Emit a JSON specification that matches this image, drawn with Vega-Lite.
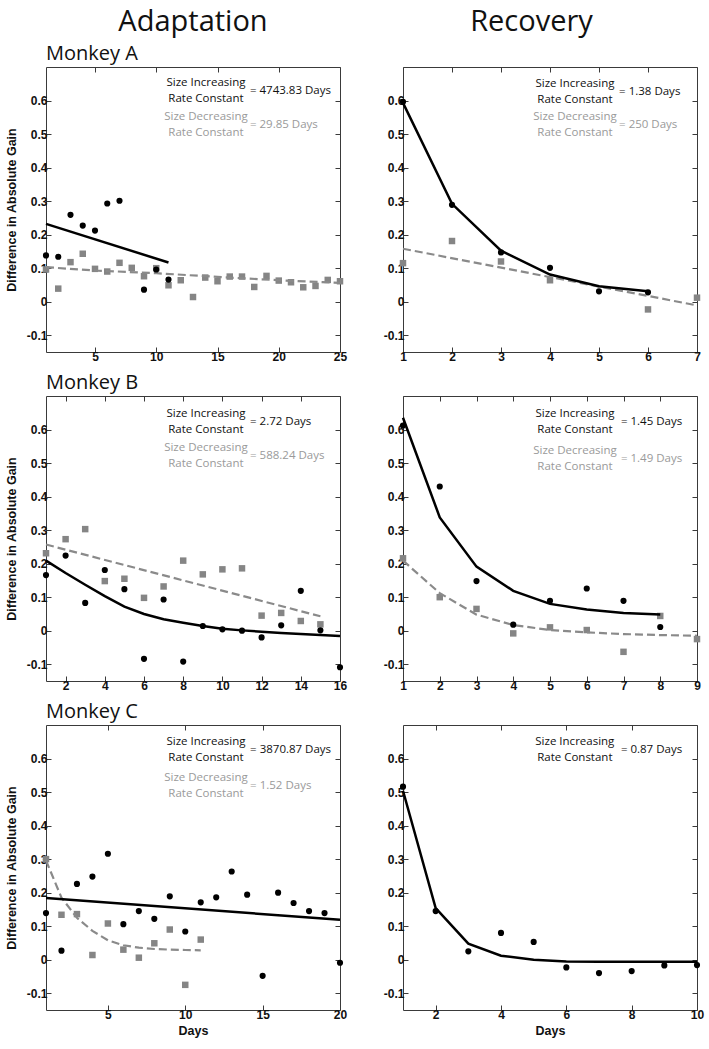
{
"$schema": "https://vega.github.io/schema/vega-lite/v6.json",
"padding": {"left": 4, "top": 8, "right": 4, "bottom": 4},
"config": {
 "font": "Open Sans",
 "view": {"stroke": "#3a3a3a", "strokeWidth": 1},
 "axis": {"domain": false, "grid": false, "tickSize": -5, "tickColor": "#3a3a3a", "tickWidth": 1, "labelFont": "Liberation Sans", "labelFontWeight": "bold", "labelFontSize": 12, "labelColor": "#111", "labelPadding": 4, "labelFlush": false, "labelOverlap": false, "titleFont": "Liberation Sans", "titleFontWeight": "bold", "titleFontSize": 12.5, "titleColor": "#111", "titlePadding": 8},
 "title": {"font": "Open Sans", "fontWeight": "normal", "color": "#111", "fontSize": 20, "anchor": "start", "frame": "group", "offset": 3},
 "text": {"font": "Open Sans", "fontSize": 11.5, "lineBreak": "\n", "lineHeight": 16, "baseline": "middle"}
},
"datasets": {
 "points": [
  {"p":"AL","s":"inc","day":1,"gain":0.138},{"p":"AL","s":"inc","day":2,"gain":0.134},{"p":"AL","s":"inc","day":3,"gain":0.259},{"p":"AL","s":"inc","day":4,"gain":0.227},{"p":"AL","s":"inc","day":5,"gain":0.212},{"p":"AL","s":"inc","day":6,"gain":0.293},{"p":"AL","s":"inc","day":7,"gain":0.301},{"p":"AL","s":"inc","day":9,"gain":0.036},{"p":"AL","s":"inc","day":10,"gain":0.096},{"p":"AL","s":"inc","day":11,"gain":0.066},
  {"p":"AL","s":"dec","day":1,"gain":0.096},{"p":"AL","s":"dec","day":2,"gain":0.039},{"p":"AL","s":"dec","day":3,"gain":0.118},{"p":"AL","s":"dec","day":4,"gain":0.143},{"p":"AL","s":"dec","day":5,"gain":0.098},{"p":"AL","s":"dec","day":6,"gain":0.09},{"p":"AL","s":"dec","day":7,"gain":0.116},{"p":"AL","s":"dec","day":8,"gain":0.101},{"p":"AL","s":"dec","day":9,"gain":0.076},{"p":"AL","s":"dec","day":10,"gain":0.1},{"p":"AL","s":"dec","day":11,"gain":0.049},{"p":"AL","s":"dec","day":12,"gain":0.064},{"p":"AL","s":"dec","day":13,"gain":0.014},{"p":"AL","s":"dec","day":14,"gain":0.072},{"p":"AL","s":"dec","day":15,"gain":0.061},{"p":"AL","s":"dec","day":16,"gain":0.075},{"p":"AL","s":"dec","day":17,"gain":0.075},{"p":"AL","s":"dec","day":18,"gain":0.044},{"p":"AL","s":"dec","day":19,"gain":0.077},{"p":"AL","s":"dec","day":20,"gain":0.063},{"p":"AL","s":"dec","day":21,"gain":0.058},{"p":"AL","s":"dec","day":22,"gain":0.043},{"p":"AL","s":"dec","day":23,"gain":0.047},{"p":"AL","s":"dec","day":24,"gain":0.065},{"p":"AL","s":"dec","day":25,"gain":0.061},
  {"p":"AR","s":"inc","day":1,"gain":0.596},{"p":"AR","s":"inc","day":2,"gain":0.289},{"p":"AR","s":"inc","day":3,"gain":0.147},{"p":"AR","s":"inc","day":4,"gain":0.101},{"p":"AR","s":"inc","day":5,"gain":0.031},{"p":"AR","s":"inc","day":6,"gain":0.028},
  {"p":"AR","s":"dec","day":1,"gain":0.115},{"p":"AR","s":"dec","day":2,"gain":0.181},{"p":"AR","s":"dec","day":3,"gain":0.12},{"p":"AR","s":"dec","day":4,"gain":0.064},{"p":"AR","s":"dec","day":6,"gain":-0.023},{"p":"AR","s":"dec","day":7,"gain":0.012},
  {"p":"BL","s":"inc","day":1,"gain":0.166},{"p":"BL","s":"inc","day":2,"gain":0.224},{"p":"BL","s":"inc","day":3,"gain":0.083},{"p":"BL","s":"inc","day":4,"gain":0.181},{"p":"BL","s":"inc","day":5,"gain":0.124},{"p":"BL","s":"inc","day":6,"gain":-0.084},{"p":"BL","s":"inc","day":7,"gain":0.093},{"p":"BL","s":"inc","day":8,"gain":-0.092},{"p":"BL","s":"inc","day":9,"gain":0.014},{"p":"BL","s":"inc","day":10,"gain":0.004},{"p":"BL","s":"inc","day":11,"gain":0.0},{"p":"BL","s":"inc","day":12,"gain":-0.02},{"p":"BL","s":"inc","day":13,"gain":0.016},{"p":"BL","s":"inc","day":14,"gain":0.119},{"p":"BL","s":"inc","day":15,"gain":0.001},{"p":"BL","s":"inc","day":16,"gain":-0.109},
  {"p":"BL","s":"dec","day":1,"gain":0.231},{"p":"BL","s":"dec","day":2,"gain":0.273},{"p":"BL","s":"dec","day":3,"gain":0.303},{"p":"BL","s":"dec","day":4,"gain":0.148},{"p":"BL","s":"dec","day":5,"gain":0.155},{"p":"BL","s":"dec","day":6,"gain":0.098},{"p":"BL","s":"dec","day":7,"gain":0.132},{"p":"BL","s":"dec","day":8,"gain":0.209},{"p":"BL","s":"dec","day":9,"gain":0.168},{"p":"BL","s":"dec","day":10,"gain":0.183},{"p":"BL","s":"dec","day":11,"gain":0.186},{"p":"BL","s":"dec","day":12,"gain":0.045},{"p":"BL","s":"dec","day":13,"gain":0.053},{"p":"BL","s":"dec","day":14,"gain":0.029},{"p":"BL","s":"dec","day":15,"gain":0.019},
  {"p":"BR","s":"inc","day":1,"gain":0.612},{"p":"BR","s":"inc","day":2,"gain":0.43},{"p":"BR","s":"inc","day":3,"gain":0.148},{"p":"BR","s":"inc","day":4,"gain":0.018},{"p":"BR","s":"inc","day":5,"gain":0.089},{"p":"BR","s":"inc","day":6,"gain":0.126},{"p":"BR","s":"inc","day":7,"gain":0.089},{"p":"BR","s":"inc","day":8,"gain":0.011},
  {"p":"BR","s":"dec","day":1,"gain":0.216},{"p":"BR","s":"dec","day":2,"gain":0.1},{"p":"BR","s":"dec","day":3,"gain":0.065},{"p":"BR","s":"dec","day":4,"gain":-0.008},{"p":"BR","s":"dec","day":5,"gain":0.01},{"p":"BR","s":"dec","day":6,"gain":0.002},{"p":"BR","s":"dec","day":7,"gain":-0.063},{"p":"BR","s":"dec","day":8,"gain":0.044},{"p":"BR","s":"dec","day":9,"gain":-0.025},
  {"p":"CL","s":"inc","day":1,"gain":0.139},{"p":"CL","s":"inc","day":2,"gain":0.027},{"p":"CL","s":"inc","day":3,"gain":0.226},{"p":"CL","s":"inc","day":4,"gain":0.248},{"p":"CL","s":"inc","day":5,"gain":0.316},{"p":"CL","s":"inc","day":6,"gain":0.106},{"p":"CL","s":"inc","day":7,"gain":0.145},{"p":"CL","s":"inc","day":8,"gain":0.122},{"p":"CL","s":"inc","day":9,"gain":0.189},{"p":"CL","s":"inc","day":10,"gain":0.084},{"p":"CL","s":"inc","day":11,"gain":0.171},{"p":"CL","s":"inc","day":12,"gain":0.186},{"p":"CL","s":"inc","day":13,"gain":0.263},{"p":"CL","s":"inc","day":14,"gain":0.194},{"p":"CL","s":"inc","day":15,"gain":-0.048},{"p":"CL","s":"inc","day":16,"gain":0.2},{"p":"CL","s":"inc","day":17,"gain":0.169},{"p":"CL","s":"inc","day":18,"gain":0.145},{"p":"CL","s":"inc","day":19,"gain":0.139},{"p":"CL","s":"inc","day":20,"gain":-0.009},
  {"p":"CL","s":"dec","day":1,"gain":0.3},{"p":"CL","s":"dec","day":2,"gain":0.134},{"p":"CL","s":"dec","day":3,"gain":0.136},{"p":"CL","s":"dec","day":4,"gain":0.014},{"p":"CL","s":"dec","day":5,"gain":0.108},{"p":"CL","s":"dec","day":6,"gain":0.03},{"p":"CL","s":"dec","day":7,"gain":0.006},{"p":"CL","s":"dec","day":8,"gain":0.049},{"p":"CL","s":"dec","day":9,"gain":0.09},{"p":"CL","s":"dec","day":10,"gain":-0.075},{"p":"CL","s":"dec","day":11,"gain":0.06},
  {"p":"CR","s":"inc","day":1,"gain":0.516},{"p":"CR","s":"inc","day":2,"gain":0.145},{"p":"CR","s":"inc","day":3,"gain":0.025},{"p":"CR","s":"inc","day":4,"gain":0.08},{"p":"CR","s":"inc","day":5,"gain":0.053},{"p":"CR","s":"inc","day":6,"gain":-0.023},{"p":"CR","s":"inc","day":7,"gain":-0.04},{"p":"CR","s":"inc","day":8,"gain":-0.034},{"p":"CR","s":"inc","day":9,"gain":-0.017},{"p":"CR","s":"inc","day":10,"gain":-0.016}
 ],
 "fits": [
  {"p":"AL","s":"inc","day":1,"gain":0.232},{"p":"AL","s":"inc","day":11,"gain":0.117},
  {"p":"AL","s":"dec","day":1,"gain":0.103},{"p":"AL","s":"dec","day":5,"gain":0.093},{"p":"AL","s":"dec","day":10,"gain":0.085},{"p":"AL","s":"dec","day":15,"gain":0.074},{"p":"AL","s":"dec","day":20,"gain":0.064},{"p":"AL","s":"dec","day":25,"gain":0.056},
  {"p":"AR","s":"inc","day":1,"gain":0.593},{"p":"AR","s":"inc","day":2,"gain":0.292},{"p":"AR","s":"inc","day":3,"gain":0.152},{"p":"AR","s":"inc","day":4,"gain":0.081},{"p":"AR","s":"inc","day":5,"gain":0.046},{"p":"AR","s":"inc","day":6,"gain":0.031},
  {"p":"AR","s":"dec","day":1,"gain":0.158},{"p":"AR","s":"dec","day":7,"gain":-0.011},
  {"p":"BL","s":"inc","day":1,"gain":0.209},{"p":"BL","s":"inc","day":2,"gain":0.172},{"p":"BL","s":"inc","day":3,"gain":0.137},{"p":"BL","s":"inc","day":4,"gain":0.103},{"p":"BL","s":"inc","day":5,"gain":0.072},{"p":"BL","s":"inc","day":6,"gain":0.05},{"p":"BL","s":"inc","day":7,"gain":0.034},{"p":"BL","s":"inc","day":8,"gain":0.024},{"p":"BL","s":"inc","day":9,"gain":0.014},{"p":"BL","s":"inc","day":10,"gain":0.006},{"p":"BL","s":"inc","day":11,"gain":0.001},{"p":"BL","s":"inc","day":12,"gain":-0.003},{"p":"BL","s":"inc","day":13,"gain":-0.007},{"p":"BL","s":"inc","day":14,"gain":-0.01},{"p":"BL","s":"inc","day":15,"gain":-0.013},{"p":"BL","s":"inc","day":16,"gain":-0.016},
  {"p":"BL","s":"dec","day":1,"gain":0.257},{"p":"BL","s":"dec","day":15,"gain":0.043},
  {"p":"BR","s":"inc","day":1,"gain":0.635},{"p":"BR","s":"inc","day":2,"gain":0.338},{"p":"BR","s":"inc","day":3,"gain":0.191},{"p":"BR","s":"inc","day":4,"gain":0.119},{"p":"BR","s":"inc","day":5,"gain":0.08},{"p":"BR","s":"inc","day":6,"gain":0.063},{"p":"BR","s":"inc","day":7,"gain":0.053},{"p":"BR","s":"inc","day":8,"gain":0.048},
  {"p":"BR","s":"dec","day":1,"gain":0.209},{"p":"BR","s":"dec","day":2,"gain":0.112},{"p":"BR","s":"dec","day":3,"gain":0.048},{"p":"BR","s":"dec","day":4,"gain":0.017},{"p":"BR","s":"dec","day":5,"gain":0.002},{"p":"BR","s":"dec","day":6,"gain":-0.005},{"p":"BR","s":"dec","day":7,"gain":-0.01},{"p":"BR","s":"dec","day":8,"gain":-0.013},{"p":"BR","s":"dec","day":9,"gain":-0.015},
  {"p":"CL","s":"inc","day":1,"gain":0.184},{"p":"CL","s":"inc","day":20,"gain":0.119},
  {"p":"CL","s":"dec","day":1,"gain":0.296},{"p":"CL","s":"dec","day":2,"gain":0.185},{"p":"CL","s":"dec","day":3,"gain":0.125},{"p":"CL","s":"dec","day":4,"gain":0.086},{"p":"CL","s":"dec","day":5,"gain":0.058},{"p":"CL","s":"dec","day":6,"gain":0.043},{"p":"CL","s":"dec","day":7,"gain":0.036},{"p":"CL","s":"dec","day":8,"gain":0.032},{"p":"CL","s":"dec","day":9,"gain":0.03},{"p":"CL","s":"dec","day":10,"gain":0.029},{"p":"CL","s":"dec","day":11,"gain":0.028},
  {"p":"CR","s":"inc","day":1,"gain":0.504},{"p":"CR","s":"inc","day":2,"gain":0.154},{"p":"CR","s":"inc","day":3,"gain":0.048},{"p":"CR","s":"inc","day":4,"gain":0.012},{"p":"CR","s":"inc","day":5,"gain":0.0},{"p":"CR","s":"inc","day":6,"gain":-0.005},{"p":"CR","s":"inc","day":7,"gain":-0.006},{"p":"CR","s":"inc","day":8,"gain":-0.006},{"p":"CR","s":"inc","day":9,"gain":-0.006},{"p":"CR","s":"inc","day":10,"gain":-0.006}
 ],
 "notes": [
  {"p":"AL","s":"inc","k":"label","day":14.06,"gain":0.627,"t":"Size Increasing\nRate Constant"},{"p":"AL","s":"inc","k":"value","day":17.65,"gain":0.627,"t":"= 4743.83 Days"},
  {"p":"AL","s":"dec","k":"label","day":14.06,"gain":0.528,"t":"Size Decreasing\nRate Constant"},{"p":"AL","s":"dec","k":"value","day":17.65,"gain":0.528,"t":"= 29.85 Days"},
  {"p":"AR","s":"inc","k":"label","day":4.51,"gain":0.625,"t":"Size Increasing\nRate Constant"},{"p":"AR","s":"inc","k":"value","day":5.41,"gain":0.625,"t":"= 1.38 Days"},
  {"p":"AR","s":"dec","k":"label","day":4.51,"gain":0.527,"t":"Size Decreasing\nRate Constant"},{"p":"AR","s":"dec","k":"value","day":5.41,"gain":0.527,"t":"= 250 Days"},
  {"p":"BL","s":"inc","k":"label","day":9.16,"gain":0.623,"t":"Size Increasing\nRate Constant"},{"p":"BL","s":"inc","k":"value","day":11.41,"gain":0.623,"t":"= 2.72 Days"},
  {"p":"BL","s":"dec","k":"label","day":9.16,"gain":0.522,"t":"Size Decreasing\nRate Constant"},{"p":"BL","s":"dec","k":"value","day":11.41,"gain":0.522,"t":"= 588.24 Days"},
  {"p":"BR","s":"inc","k":"label","day":5.68,"gain":0.623,"t":"Size Increasing\nRate Constant"},{"p":"BR","s":"inc","k":"value","day":6.93,"gain":0.623,"t":"= 1.45 Days"},
  {"p":"BR","s":"dec","k":"label","day":5.68,"gain":0.513,"t":"Size Decreasing\nRate Constant"},{"p":"BR","s":"dec","k":"value","day":6.93,"gain":0.513,"t":"= 1.49 Days"},
  {"p":"CL","s":"inc","k":"label","day":11.34,"gain":0.626,"t":"Size Increasing\nRate Constant"},{"p":"CL","s":"inc","k":"value","day":14.19,"gain":0.626,"t":"= 3870.87 Days"},
  {"p":"CL","s":"dec","k":"label","day":11.34,"gain":0.519,"t":"Size Decreasing\nRate Constant"},{"p":"CL","s":"dec","k":"value","day":14.19,"gain":0.519,"t":"= 1.52 Days"},
  {"p":"CR","s":"inc","k":"label","day":6.26,"gain":0.626,"t":"Size Increasing\nRate Constant"},{"p":"CR","s":"inc","k":"value","day":7.67,"gain":0.626,"t":"= 0.87 Days"}
 ]
},
"align": "none",
"spacing": 34,
"hconcat": [
 {"title": {"text": "Adaptation", "fontSize": 29, "anchor": "middle", "frame": "bounds", "offset": 6, "dx": 17},
  "spacing": 9,
  "vconcat": [
   {"title": {"text": "Monkey A"}, "width": 294, "height": 285,
    "encoding": {"x": {"field": "day", "type": "quantitative", "scale": {"domain": [1, 25], "nice": false, "zero": false}, "axis": null},
                 "y": {"field": "gain", "type": "quantitative", "scale": {"domain": [-0.15, 0.7], "nice": false, "zero": false}, "axis": null}},
    "layer": [
     {"data": {"name": "points"}, "transform": [{"filter": "datum.p == 'AL' && datum.s == 'dec'"}], "mark": {"type": "square", "filled": true, "color": "#858585", "size": 42, "opacity": 1}},
     {"data": {"name": "fits"}, "transform": [{"filter": "datum.p == 'AL' && datum.s == 'dec'"}], "mark": {"type": "line", "color": "#8a8a8a", "strokeWidth": 2.2, "strokeDash": [8, 4]}},
     {"data": {"name": "points"}, "transform": [{"filter": "datum.p == 'AL' && datum.s == 'inc'"}], "mark": {"type": "circle", "color": "#000", "size": 38, "opacity": 1},
      "encoding": {"x": {"field": "day", "type": "quantitative", "scale": {"domain": [1, 25], "nice": false, "zero": false}, "axis": {"orient": "bottom", "values": [5, 10, 15, 20, 25], "title": null}},
                   "y": {"field": "gain", "type": "quantitative", "scale": {"domain": [-0.15, 0.7], "nice": false, "zero": false}, "axis": {"orient": "left", "values": [-0.1, 0, 0.1, 0.2, 0.3, 0.4, 0.5, 0.6], "title": "Difference in Absolute Gain", "labelExpr": "datum.value == 0 ? '0' : (datum.value < 0 ? '-' : '') + format(abs(datum.value), '.1f')"}}}},
     {"data": {"name": "fits"}, "transform": [{"filter": "datum.p == 'AL' && datum.s == 'inc'"}], "mark": {"type": "line", "color": "#000", "strokeWidth": 2.5},
      "encoding": {"x": {"field": "day", "type": "quantitative", "scale": {"domain": [1, 25], "nice": false, "zero": false}, "axis": {"orient": "top", "values": [5, 10, 15, 20, 25], "labels": false, "title": null}},
                   "y": {"field": "gain", "type": "quantitative", "scale": {"domain": [-0.15, 0.7], "nice": false, "zero": false}, "axis": {"orient": "right", "values": [-0.1, 0, 0.1, 0.2, 0.3, 0.4, 0.5, 0.6], "labels": false, "title": null}}}},
     {"data": {"name": "notes"}, "transform": [{"filter": "datum.p == 'AL' && datum.k == 'label'"}], "mark": {"type": "text", "align": "center", "dy": -8},
      "encoding": {"text": {"field": "t"}, "color": {"condition": {"test": "datum.s == 'dec'", "value": "#9a9a9a"}, "value": "#111"}}},
     {"data": {"name": "notes"}, "transform": [{"filter": "datum.p == 'AL' && datum.k == 'value'"}], "mark": {"type": "text", "align": "left"},
      "encoding": {"text": {"field": "t"}, "color": {"condition": {"test": "datum.s == 'dec'", "value": "#9a9a9a"}, "value": "#111"}}}
    ]},
   {"title": {"text": "Monkey B"}, "width": 294, "height": 285,
    "encoding": {"x": {"field": "day", "type": "quantitative", "scale": {"domain": [1, 16], "nice": false, "zero": false}, "axis": null},
                 "y": {"field": "gain", "type": "quantitative", "scale": {"domain": [-0.15, 0.7], "nice": false, "zero": false}, "axis": null}},
    "layer": [
     {"data": {"name": "points"}, "transform": [{"filter": "datum.p == 'BL' && datum.s == 'dec'"}], "mark": {"type": "square", "filled": true, "color": "#858585", "size": 42, "opacity": 1}},
     {"data": {"name": "fits"}, "transform": [{"filter": "datum.p == 'BL' && datum.s == 'dec'"}], "mark": {"type": "line", "color": "#8a8a8a", "strokeWidth": 2.2, "strokeDash": [8, 4]}},
     {"data": {"name": "points"}, "transform": [{"filter": "datum.p == 'BL' && datum.s == 'inc'"}], "mark": {"type": "circle", "color": "#000", "size": 38, "opacity": 1},
      "encoding": {"x": {"field": "day", "type": "quantitative", "scale": {"domain": [1, 16], "nice": false, "zero": false}, "axis": {"orient": "bottom", "values": [2, 4, 6, 8, 10, 12, 14, 16], "title": null}},
                   "y": {"field": "gain", "type": "quantitative", "scale": {"domain": [-0.15, 0.7], "nice": false, "zero": false}, "axis": {"orient": "left", "values": [-0.1, 0, 0.1, 0.2, 0.3, 0.4, 0.5, 0.6], "title": "Difference in Absolute Gain", "labelExpr": "datum.value == 0 ? '0' : (datum.value < 0 ? '-' : '') + format(abs(datum.value), '.1f')"}}}},
     {"data": {"name": "fits"}, "transform": [{"filter": "datum.p == 'BL' && datum.s == 'inc'"}], "mark": {"type": "line", "color": "#000", "strokeWidth": 2.5},
      "encoding": {"x": {"field": "day", "type": "quantitative", "scale": {"domain": [1, 16], "nice": false, "zero": false}, "axis": {"orient": "top", "values": [2, 4, 6, 8, 10, 12, 14, 16], "labels": false, "title": null}},
                   "y": {"field": "gain", "type": "quantitative", "scale": {"domain": [-0.15, 0.7], "nice": false, "zero": false}, "axis": {"orient": "right", "values": [-0.1, 0, 0.1, 0.2, 0.3, 0.4, 0.5, 0.6], "labels": false, "title": null}}}},
     {"data": {"name": "notes"}, "transform": [{"filter": "datum.p == 'BL' && datum.k == 'label'"}], "mark": {"type": "text", "align": "center", "dy": -8},
      "encoding": {"text": {"field": "t"}, "color": {"condition": {"test": "datum.s == 'dec'", "value": "#9a9a9a"}, "value": "#111"}}},
     {"data": {"name": "notes"}, "transform": [{"filter": "datum.p == 'BL' && datum.k == 'value'"}], "mark": {"type": "text", "align": "left"},
      "encoding": {"text": {"field": "t"}, "color": {"condition": {"test": "datum.s == 'dec'", "value": "#9a9a9a"}, "value": "#111"}}}
    ]},
   {"title": {"text": "Monkey C"}, "width": 294, "height": 285,
    "encoding": {"x": {"field": "day", "type": "quantitative", "scale": {"domain": [1, 20], "nice": false, "zero": false}, "axis": null},
                 "y": {"field": "gain", "type": "quantitative", "scale": {"domain": [-0.15, 0.7], "nice": false, "zero": false}, "axis": null}},
    "layer": [
     {"data": {"name": "points"}, "transform": [{"filter": "datum.p == 'CL' && datum.s == 'dec'"}], "mark": {"type": "square", "filled": true, "color": "#858585", "size": 42, "opacity": 1}},
     {"data": {"name": "fits"}, "transform": [{"filter": "datum.p == 'CL' && datum.s == 'dec'"}], "mark": {"type": "line", "color": "#8a8a8a", "strokeWidth": 2.2, "strokeDash": [8, 4]}},
     {"data": {"name": "points"}, "transform": [{"filter": "datum.p == 'CL' && datum.s == 'inc'"}], "mark": {"type": "circle", "color": "#000", "size": 38, "opacity": 1},
      "encoding": {"x": {"field": "day", "type": "quantitative", "scale": {"domain": [1, 20], "nice": false, "zero": false}, "axis": {"orient": "bottom", "values": [5, 10, 15, 20], "title": "Days", "titlePadding": 4}},
                   "y": {"field": "gain", "type": "quantitative", "scale": {"domain": [-0.15, 0.7], "nice": false, "zero": false}, "axis": {"orient": "left", "values": [-0.1, 0, 0.1, 0.2, 0.3, 0.4, 0.5, 0.6], "title": "Difference in Absolute Gain", "labelExpr": "datum.value == 0 ? '0' : (datum.value < 0 ? '-' : '') + format(abs(datum.value), '.1f')"}}}},
     {"data": {"name": "fits"}, "transform": [{"filter": "datum.p == 'CL' && datum.s == 'inc'"}], "mark": {"type": "line", "color": "#000", "strokeWidth": 2.5},
      "encoding": {"x": {"field": "day", "type": "quantitative", "scale": {"domain": [1, 20], "nice": false, "zero": false}, "axis": {"orient": "top", "values": [5, 10, 15, 20], "labels": false, "title": null}},
                   "y": {"field": "gain", "type": "quantitative", "scale": {"domain": [-0.15, 0.7], "nice": false, "zero": false}, "axis": {"orient": "right", "values": [-0.1, 0, 0.1, 0.2, 0.3, 0.4, 0.5, 0.6], "labels": false, "title": null}}}},
     {"data": {"name": "notes"}, "transform": [{"filter": "datum.p == 'CL' && datum.k == 'label'"}], "mark": {"type": "text", "align": "center", "dy": -8},
      "encoding": {"text": {"field": "t"}, "color": {"condition": {"test": "datum.s == 'dec'", "value": "#9a9a9a"}, "value": "#111"}}},
     {"data": {"name": "notes"}, "transform": [{"filter": "datum.p == 'CL' && datum.k == 'value'"}], "mark": {"type": "text", "align": "left"},
      "encoding": {"text": {"field": "t"}, "color": {"condition": {"test": "datum.s == 'dec'", "value": "#9a9a9a"}, "value": "#111"}}}
    ]}
  ]},
 {"title": {"text": "Recovery", "fontSize": 29, "anchor": "middle", "frame": "bounds", "offset": 6, "dx": -12},
  "spacing": 9,
  "vconcat": [
   {"title": {"text": " "}, "width": 294, "height": 285,
    "encoding": {"x": {"field": "day", "type": "quantitative", "scale": {"domain": [1, 7], "nice": false, "zero": false}, "axis": null},
                 "y": {"field": "gain", "type": "quantitative", "scale": {"domain": [-0.15, 0.7], "nice": false, "zero": false}, "axis": null}},
    "layer": [
     {"data": {"name": "points"}, "transform": [{"filter": "datum.p == 'AR' && datum.s == 'dec'"}], "mark": {"type": "square", "filled": true, "color": "#858585", "size": 42, "opacity": 1}},
     {"data": {"name": "fits"}, "transform": [{"filter": "datum.p == 'AR' && datum.s == 'dec'"}], "mark": {"type": "line", "color": "#8a8a8a", "strokeWidth": 2.2, "strokeDash": [8, 4]}},
     {"data": {"name": "points"}, "transform": [{"filter": "datum.p == 'AR' && datum.s == 'inc'"}], "mark": {"type": "circle", "color": "#000", "size": 38, "opacity": 1},
      "encoding": {"x": {"field": "day", "type": "quantitative", "scale": {"domain": [1, 7], "nice": false, "zero": false}, "axis": {"orient": "bottom", "values": [1, 2, 3, 4, 5, 6, 7], "title": null}},
                   "y": {"field": "gain", "type": "quantitative", "scale": {"domain": [-0.15, 0.7], "nice": false, "zero": false}, "axis": {"orient": "left", "values": [-0.1, 0, 0.1, 0.2, 0.3, 0.4, 0.5, 0.6], "title": null, "labelExpr": "datum.value == 0 ? '0' : (datum.value < 0 ? '-' : '') + format(abs(datum.value), '.1f')"}}}},
     {"data": {"name": "fits"}, "transform": [{"filter": "datum.p == 'AR' && datum.s == 'inc'"}], "mark": {"type": "line", "color": "#000", "strokeWidth": 2.5},
      "encoding": {"x": {"field": "day", "type": "quantitative", "scale": {"domain": [1, 7], "nice": false, "zero": false}, "axis": {"orient": "top", "values": [1, 2, 3, 4, 5, 6, 7], "labels": false, "title": null}},
                   "y": {"field": "gain", "type": "quantitative", "scale": {"domain": [-0.15, 0.7], "nice": false, "zero": false}, "axis": {"orient": "right", "values": [-0.1, 0, 0.1, 0.2, 0.3, 0.4, 0.5, 0.6], "labels": false, "title": null}}}},
     {"data": {"name": "notes"}, "transform": [{"filter": "datum.p == 'AR' && datum.k == 'label'"}], "mark": {"type": "text", "align": "center", "dy": -8},
      "encoding": {"text": {"field": "t"}, "color": {"condition": {"test": "datum.s == 'dec'", "value": "#9a9a9a"}, "value": "#111"}}},
     {"data": {"name": "notes"}, "transform": [{"filter": "datum.p == 'AR' && datum.k == 'value'"}], "mark": {"type": "text", "align": "left"},
      "encoding": {"text": {"field": "t"}, "color": {"condition": {"test": "datum.s == 'dec'", "value": "#9a9a9a"}, "value": "#111"}}}
    ]},
   {"title": {"text": " "}, "width": 294, "height": 285,
    "encoding": {"x": {"field": "day", "type": "quantitative", "scale": {"domain": [1, 9], "nice": false, "zero": false}, "axis": null},
                 "y": {"field": "gain", "type": "quantitative", "scale": {"domain": [-0.15, 0.7], "nice": false, "zero": false}, "axis": null}},
    "layer": [
     {"data": {"name": "points"}, "transform": [{"filter": "datum.p == 'BR' && datum.s == 'dec'"}], "mark": {"type": "square", "filled": true, "color": "#858585", "size": 42, "opacity": 1}},
     {"data": {"name": "fits"}, "transform": [{"filter": "datum.p == 'BR' && datum.s == 'dec'"}], "mark": {"type": "line", "color": "#8a8a8a", "strokeWidth": 2.2, "strokeDash": [8, 4]}},
     {"data": {"name": "points"}, "transform": [{"filter": "datum.p == 'BR' && datum.s == 'inc'"}], "mark": {"type": "circle", "color": "#000", "size": 38, "opacity": 1},
      "encoding": {"x": {"field": "day", "type": "quantitative", "scale": {"domain": [1, 9], "nice": false, "zero": false}, "axis": {"orient": "bottom", "values": [1, 2, 3, 4, 5, 6, 7, 8, 9], "title": null}},
                   "y": {"field": "gain", "type": "quantitative", "scale": {"domain": [-0.15, 0.7], "nice": false, "zero": false}, "axis": {"orient": "left", "values": [-0.1, 0, 0.1, 0.2, 0.3, 0.4, 0.5, 0.6], "title": null, "labelExpr": "datum.value == 0 ? '0' : (datum.value < 0 ? '-' : '') + format(abs(datum.value), '.1f')"}}}},
     {"data": {"name": "fits"}, "transform": [{"filter": "datum.p == 'BR' && datum.s == 'inc'"}], "mark": {"type": "line", "color": "#000", "strokeWidth": 2.5},
      "encoding": {"x": {"field": "day", "type": "quantitative", "scale": {"domain": [1, 9], "nice": false, "zero": false}, "axis": {"orient": "top", "values": [1, 2, 3, 4, 5, 6, 7, 8, 9], "labels": false, "title": null}},
                   "y": {"field": "gain", "type": "quantitative", "scale": {"domain": [-0.15, 0.7], "nice": false, "zero": false}, "axis": {"orient": "right", "values": [-0.1, 0, 0.1, 0.2, 0.3, 0.4, 0.5, 0.6], "labels": false, "title": null}}}},
     {"data": {"name": "notes"}, "transform": [{"filter": "datum.p == 'BR' && datum.k == 'label'"}], "mark": {"type": "text", "align": "center", "dy": -8},
      "encoding": {"text": {"field": "t"}, "color": {"condition": {"test": "datum.s == 'dec'", "value": "#9a9a9a"}, "value": "#111"}}},
     {"data": {"name": "notes"}, "transform": [{"filter": "datum.p == 'BR' && datum.k == 'value'"}], "mark": {"type": "text", "align": "left"},
      "encoding": {"text": {"field": "t"}, "color": {"condition": {"test": "datum.s == 'dec'", "value": "#9a9a9a"}, "value": "#111"}}}
    ]},
   {"title": {"text": " "}, "width": 294, "height": 285,
    "encoding": {"x": {"field": "day", "type": "quantitative", "scale": {"domain": [1, 10], "nice": false, "zero": false}, "axis": null},
                 "y": {"field": "gain", "type": "quantitative", "scale": {"domain": [-0.15, 0.7], "nice": false, "zero": false}, "axis": null}},
    "layer": [
     {"data": {"name": "points"}, "transform": [{"filter": "datum.p == 'CR' && datum.s == 'inc'"}], "mark": {"type": "circle", "color": "#000", "size": 38, "opacity": 1},
      "encoding": {"x": {"field": "day", "type": "quantitative", "scale": {"domain": [1, 10], "nice": false, "zero": false}, "axis": {"orient": "bottom", "values": [2, 4, 6, 8, 10], "title": "Days", "titlePadding": 4}},
                   "y": {"field": "gain", "type": "quantitative", "scale": {"domain": [-0.15, 0.7], "nice": false, "zero": false}, "axis": {"orient": "left", "values": [-0.1, 0, 0.1, 0.2, 0.3, 0.4, 0.5, 0.6], "title": null, "labelExpr": "datum.value == 0 ? '0' : (datum.value < 0 ? '-' : '') + format(abs(datum.value), '.1f')"}}}},
     {"data": {"name": "fits"}, "transform": [{"filter": "datum.p == 'CR' && datum.s == 'inc'"}], "mark": {"type": "line", "color": "#000", "strokeWidth": 2.5},
      "encoding": {"x": {"field": "day", "type": "quantitative", "scale": {"domain": [1, 10], "nice": false, "zero": false}, "axis": {"orient": "top", "values": [2, 4, 6, 8, 10], "labels": false, "title": null}},
                   "y": {"field": "gain", "type": "quantitative", "scale": {"domain": [-0.15, 0.7], "nice": false, "zero": false}, "axis": {"orient": "right", "values": [-0.1, 0, 0.1, 0.2, 0.3, 0.4, 0.5, 0.6], "labels": false, "title": null}}}},
     {"data": {"name": "notes"}, "transform": [{"filter": "datum.p == 'CR' && datum.k == 'label'"}], "mark": {"type": "text", "align": "center", "dy": -8},
      "encoding": {"text": {"field": "t"}, "color": {"condition": {"test": "datum.s == 'dec'", "value": "#9a9a9a"}, "value": "#111"}}},
     {"data": {"name": "notes"}, "transform": [{"filter": "datum.p == 'CR' && datum.k == 'value'"}], "mark": {"type": "text", "align": "left"},
      "encoding": {"text": {"field": "t"}, "color": {"condition": {"test": "datum.s == 'dec'", "value": "#9a9a9a"}, "value": "#111"}}}
    ]}
  ]}
]
}
